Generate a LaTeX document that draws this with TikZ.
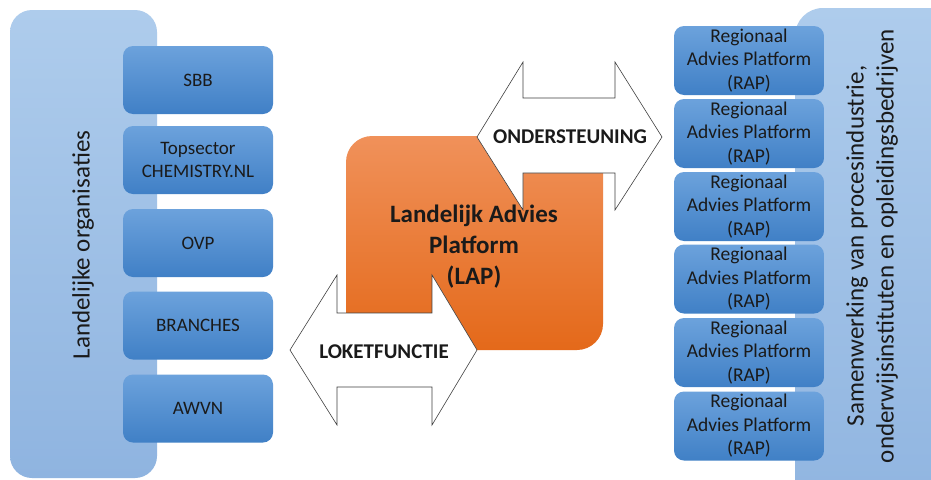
\documentclass[tikz,border=0pt]{standalone}
\usepackage{fontspec}
\setmainfont{Carlito}
\usetikzlibrary{positioning}
\definecolor{panelTop}{HTML}{AECCEC}
\definecolor{panelBot}{HTML}{8FB4E0}
\definecolor{boxTop}{HTML}{6CA2DC}
\definecolor{boxBot}{HTML}{4080C6}
\definecolor{orTop}{HTML}{F0915A}
\definecolor{orBot}{HTML}{E4691A}
\definecolor{txt}{HTML}{1A1A1A}
\tikzset{
  panel/.style={rounded corners=22pt, top color=panelTop, bottom color=panelBot, draw=none},
  bluebox/.style={rounded corners=10pt, top color=boxTop, bottom color=boxBot, draw=none,
     minimum width=150pt, minimum height=68pt, inner sep=0pt, align=center,
     font=\fontsize{19}{22.5}\selectfont, text=txt},
  rapbox/.style={bluebox, minimum height=69pt, font=\fontsize{19.5}{23.5}\selectfont},
  dblarrow/.style={fill=white, draw=black!75, line width=0.6pt, line join=miter},
  arrowlabel/.style={font=\bfseries\fontsize{21}{24}\selectfont, text=txt, inner sep=0pt},
  sidelabel/.style={font=\fontsize{25}{30}\selectfont, text=txt, rotate=90, align=center, inner sep=0pt}
}
\begin{document}
\begin{tikzpicture}[x=1pt,y=-1pt]
\useasboundingbox (0,0) rectangle (931,479);
\fill[white] (0,0) rectangle (931,479);
% left panel
\path[panel] (10,10) rectangle (157,478);
\node[sidelabel] (lo) at (83,245) {Landelijke organisaties};
% left boxes
\node[bluebox] (sbb) at (198,80) {SBB};
\node[bluebox] (top) at (198,160) {Topsector\\CHEMISTRY.NL};
\node[bluebox] (ovp) at (198,243) {OVP};
\node[bluebox] (br) at (198,325.5) {BRANCHES};
\node[bluebox] (aw) at (198,408.5) {AWVN};
% right panel
\begin{scope}
\clip (0,0) rectangle (931,479);
\path[panel, rounded corners=28pt] (795,8) rectangle (980,530);
\end{scope}
\node[sidelabel] (rp) at (872,246) {Samenwerking van procesindustrie,\\onderwijsinstituten en opleidingsbedrijven};
% RAP boxes
\foreach \i/\y in {1/60.5, 2/133.5, 3/206.5, 4/279, 5/352.5, 6/426}{
  \node[rapbox] (rap\i) at (749,\y) {Regionaal\\Advies Platform\\(RAP)};
}
% central orange
\path[rounded corners=26pt, top color=orTop, bottom color=orBot] (346,136) rectangle (603,350);
\node[font=\bfseries\fontsize{25}{31}\selectfont, text=txt, align=center] (lap) at (474,247) {Landelijk Advies\\Platform\\(LAP)};
% arrows
\draw[dblarrow] (477,137) -- (523,62) -- (523,98) -- (615,98) -- (615,62) -- (662,137)
   -- (615,210) -- (615,173) -- (523,173) -- (523,210) -- cycle;
\node[arrowlabel] (ond) at (570,137) {ONDERSTEUNING};
\draw[dblarrow] (290,350) -- (337,275) -- (337,313) -- (432,313) -- (432,275) -- (477,350)
   -- (432,425) -- (432,387) -- (337,387) -- (337,425) -- cycle;
\node[arrowlabel] (lok) at (384,352) {LOKETFUNCTIE};
\end{tikzpicture}
\end{document}
